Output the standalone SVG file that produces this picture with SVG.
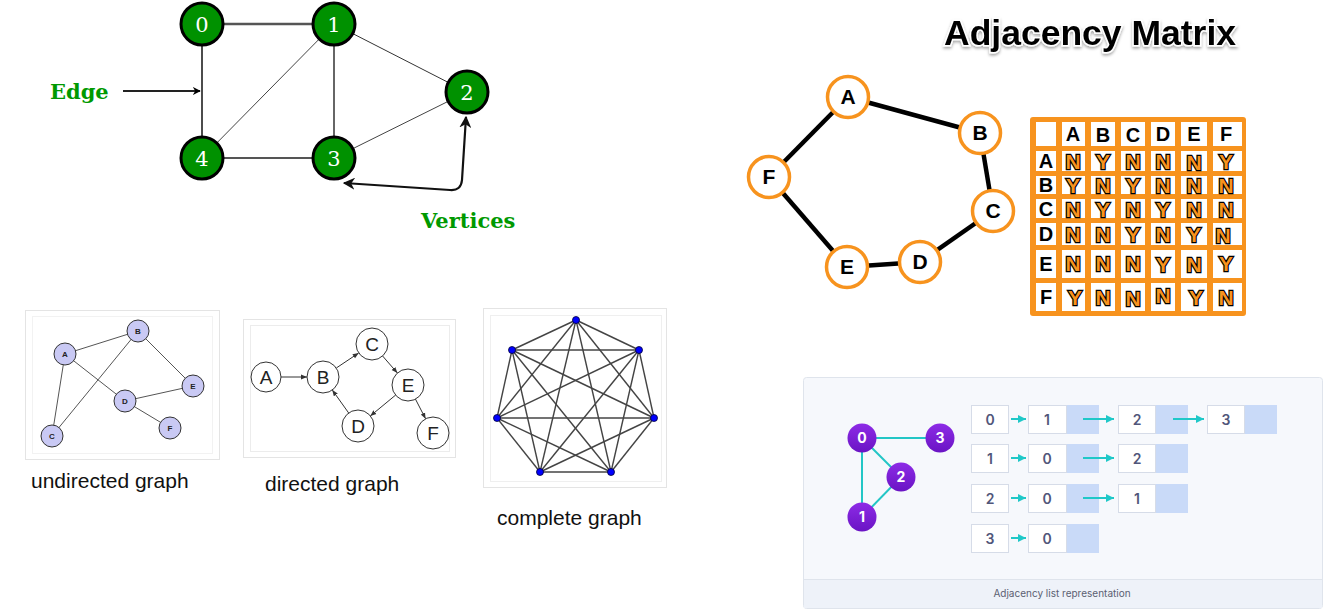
<svg xmlns="http://www.w3.org/2000/svg" width="1324" height="611" viewBox="0 0 1324 611">
<defs>
<style>
.gnode circle{fill:#009100;stroke:#000;stroke-width:3}
.gnode text{fill:#fff;font-family:"DejaVu Serif",serif;font-size:21px;text-anchor:middle}
.glabel{fill:#009900;font-family:"DejaVu Serif",serif;font-weight:bold;font-size:21px}
.mnode circle{fill:#fff;stroke:#f7931e;stroke-width:3.5}
.mnode text{fill:#000;font-family:"Liberation Sans",Arial,sans-serif;font-weight:bold;font-size:21px;text-anchor:middle;stroke:#fff;stroke-width:3;paint-order:stroke}
.mhdr{fill:#000;font-family:"Liberation Sans",Arial,sans-serif;font-weight:bold;font-size:20px;text-anchor:middle;stroke:#fff;stroke-width:2;paint-order:stroke}
.mval{fill:#f7931e;font-family:"Liberation Sans",Arial,sans-serif;font-weight:bold;font-size:21px;text-anchor:middle;stroke:#000;stroke-width:2.4;paint-order:stroke}
.mcell{fill:#fff}
.unode circle{fill:#c9c9f4;stroke:#333;stroke-width:1}
.unode text{fill:#222;font-family:"Liberation Sans",Arial,sans-serif;font-weight:bold;font-size:8px;text-anchor:middle}
.dnode circle{fill:#fff;stroke:#333;stroke-width:1}
.dnode text{fill:#222;font-family:"Liberation Sans",Arial,sans-serif;font-size:19px;text-anchor:middle}
.cnode circle{fill:#0000ff;stroke:#000033;stroke-width:0.8}
.cap{fill:#111;font-family:"Liberation Sans",Arial,sans-serif;font-size:21px}
.lnode circle{fill:url(#purp)}
.lnode text{fill:#fff;font-family:Inter,"Liberation Sans",sans-serif;font-weight:bold;font-size:14px;text-anchor:middle}
.lbox{fill:#fff;stroke:#d6dce8;stroke-width:1}
.lptr{fill:#c9daf8}
.ltxt{fill:#51567a;font-family:Inter,"Liberation Sans",sans-serif;font-weight:600;font-size:14px;text-anchor:middle}
.frame{fill:#fff;stroke:#e4e4e4;stroke-width:1}
</style>
<linearGradient id="purp" x1="0" y1="0" x2="0" y2="1">
<stop offset="0" stop-color="#8d2be6"/>
<stop offset="1" stop-color="#6a14c4"/>
</linearGradient>
<marker id="ah" viewBox="0 0 10 10" refX="9" refY="5" markerWidth="8" markerHeight="8" orient="auto-start-reverse" markerUnits="userSpaceOnUse">
<path d="M0,0 L10,5 L0,10 L3,5 z" fill="#000"/>
</marker>
<marker id="ahs" viewBox="0 0 10 10" refX="9" refY="5" markerWidth="12" markerHeight="12" orient="auto-start-reverse" markerUnits="userSpaceOnUse">
<path d="M0,0 L10,5 L0,10 L3,5 z" fill="#111"/>
</marker>
<marker id="dh" viewBox="0 0 10 10" refX="10" refY="5" markerWidth="6" markerHeight="6" orient="auto" markerUnits="userSpaceOnUse">
<path d="M0,1 L10,5 L0,9 z" fill="#333"/>
</marker>
<marker id="th" viewBox="0 0 10 10" refX="10" refY="5" markerWidth="8" markerHeight="8" orient="auto" markerUnits="userSpaceOnUse">
<path d="M0,0 L10,5 L0,10 z" fill="#1fc8c8"/>
</marker>
<filter id="sh" x="-5%" y="-20%" width="110%" height="150%">
<feDropShadow dx="0" dy="2" stdDeviation="1.5" flood-color="#000" flood-opacity="0.35"/>
</filter>
</defs>
<rect width="1324" height="611" fill="#fff"/>

<!-- ===== Top-left graph ===== -->
<g id="connectors-top">
<line x1="202" y1="24" x2="334" y2="24" stroke="#555" stroke-width="2.5"/>
<line x1="202" y1="24" x2="202" y2="158" stroke="#111" stroke-width="1.5"/>
<line x1="202" y1="158" x2="334" y2="24" stroke="#444" stroke-width="1"/>
<line x1="334" y1="24" x2="334" y2="158" stroke="#333" stroke-width="1.5"/>
<line x1="334" y1="24" x2="467" y2="92" stroke="#333" stroke-width="1"/>
<line x1="467" y1="92" x2="334" y2="158" stroke="#444" stroke-width="1"/>
<line x1="202" y1="158" x2="334" y2="158" stroke="#555" stroke-width="2"/>
<line x1="123" y1="91" x2="200" y2="91" stroke="#222" stroke-width="2" marker-end="url(#ah)"/>
<path d="M344,183 L450,190 Q461,191 462,180 L466,117" fill="none" stroke="#111" stroke-width="2.2" marker-start="url(#ahs)" marker-end="url(#ahs)"/>
</g>
<g id="n0" class="gnode"><circle cx="202" cy="24" r="21"/><text x="202" y="32">0</text></g>
<g id="n1" class="gnode"><circle cx="334" cy="24" r="21"/><text x="334" y="32">1</text></g>
<g id="n2" class="gnode"><circle cx="467" cy="92" r="21"/><text x="467" y="100">2</text></g>
<g id="n3" class="gnode"><circle cx="334" cy="158" r="21"/><text x="334" y="166">3</text></g>
<g id="n4" class="gnode"><circle cx="202" cy="158" r="21"/><text x="202" y="166">4</text></g>
<g id="lbl-edge"><text class="glabel" x="50" y="99">Edge</text></g>
<g id="lbl-vertices"><text class="glabel" x="421" y="228">Vertices</text></g>

<!-- ===== Adjacency matrix ===== -->
<g id="title"><text x="944" y="45" font-family="'Liberation Sans',Arial,sans-serif" font-weight="bold" font-size="35.5" fill="#000" stroke="#fff" stroke-width="3" paint-order="stroke" filter="url(#sh)">Adjacency Matrix</text></g>
<g id="connectors-matrix" stroke="#000" stroke-width="4.5">
<line x1="848" y1="97" x2="980" y2="133"/>
<line x1="980" y1="133" x2="993" y2="211"/>
<line x1="993" y1="211" x2="920" y2="262"/>
<line x1="920" y1="262" x2="847" y2="267"/>
<line x1="847" y1="267" x2="769" y2="177"/>
<line x1="769" y1="177" x2="848" y2="97"/>
</g>
<g id="mA" class="mnode"><circle cx="848" cy="97" r="20.5"/><text x="848" y="104">A</text></g>
<g id="mB" class="mnode"><circle cx="980" cy="133" r="20.5"/><text x="980" y="140">B</text></g>
<g id="mC" class="mnode"><circle cx="993" cy="211" r="20.5"/><text x="993" y="218">C</text></g>
<g id="mD" class="mnode"><circle cx="920" cy="262" r="20.5"/><text x="920" y="269">D</text></g>
<g id="mE" class="mnode"><circle cx="847" cy="267" r="20.5"/><text x="847" y="274">E</text></g>
<g id="mF" class="mnode"><circle cx="769" cy="177" r="20.5"/><text x="769" y="184">F</text></g>

<g id="matrix">
<rect x="1030" y="117" width="216" height="199" rx="3" fill="#f7931e"/>
<g class="mcell">
<rect x="1036" y="122" width="20" height="24"/><rect x="1062" y="122" width="23" height="24"/><rect x="1091" y="122" width="24" height="24"/><rect x="1121" y="122" width="24" height="24"/><rect x="1151" y="122" width="24" height="24"/><rect x="1181" y="122" width="26" height="24"/><rect x="1213" y="122" width="29" height="24"/>
<rect x="1036" y="151" width="20" height="20"/><rect x="1062" y="151" width="23" height="20"/><rect x="1091" y="151" width="24" height="20"/><rect x="1121" y="151" width="24" height="20"/><rect x="1151" y="151" width="24" height="20"/><rect x="1181" y="151" width="26" height="20"/><rect x="1213" y="151" width="29" height="20"/>
<rect x="1036" y="176" width="20" height="18"/><rect x="1062" y="176" width="23" height="18"/><rect x="1091" y="176" width="24" height="18"/><rect x="1121" y="176" width="24" height="18"/><rect x="1151" y="176" width="24" height="18"/><rect x="1181" y="176" width="26" height="18"/><rect x="1213" y="176" width="29" height="18"/>
<rect x="1036" y="199" width="20" height="19"/><rect x="1062" y="199" width="23" height="19"/><rect x="1091" y="199" width="24" height="19"/><rect x="1121" y="199" width="24" height="19"/><rect x="1151" y="199" width="24" height="19"/><rect x="1181" y="199" width="26" height="19"/><rect x="1213" y="199" width="29" height="19"/>
<rect x="1036" y="223" width="20" height="22"/><rect x="1062" y="223" width="23" height="22"/><rect x="1091" y="223" width="24" height="22"/><rect x="1121" y="223" width="24" height="22"/><rect x="1151" y="223" width="24" height="22"/><rect x="1181" y="223" width="26" height="22"/><rect x="1213" y="223" width="29" height="22"/>
<rect x="1036" y="250" width="20" height="28"/><rect x="1062" y="250" width="23" height="28"/><rect x="1091" y="250" width="24" height="28"/><rect x="1121" y="250" width="24" height="28"/><rect x="1151" y="250" width="24" height="28"/><rect x="1181" y="250" width="26" height="28"/><rect x="1213" y="250" width="29" height="28"/>
<rect x="1036" y="283" width="20" height="28"/><rect x="1062" y="283" width="23" height="28"/><rect x="1091" y="283" width="24" height="28"/><rect x="1121" y="283" width="24" height="28"/><rect x="1151" y="283" width="24" height="28"/><rect x="1181" y="283" width="26" height="28"/><rect x="1213" y="283" width="29" height="28"/>
</g>
<g class="mhdr">
<text x="1073" y="141">A</text><text x="1103" y="142">B</text><text x="1133" y="142">C</text><text x="1163" y="141">D</text><text x="1194" y="141">E</text><text x="1226" y="141">F</text>
<text x="1046" y="168">A</text><text x="1046" y="192">B</text><text x="1046" y="216">C</text><text x="1046" y="241">D</text><text x="1046" y="271">E</text><text x="1046" y="304">F</text>
</g>
<g class="mval">
<text x="1073" y="169">N</text><text x="1103" y="169">Y</text><text x="1133" y="169">N</text><text x="1163" y="169">N</text><text x="1194" y="170">N</text><text x="1226" y="169">Y</text>
<text x="1073" y="193">Y</text><text x="1103" y="193">N</text><text x="1133" y="193">Y</text><text x="1163" y="193">N</text><text x="1194" y="193">N</text><text x="1226" y="193">N</text>
<text x="1073" y="217">N</text><text x="1103" y="217">Y</text><text x="1133" y="217">N</text><text x="1163" y="217">Y</text><text x="1194" y="217">N</text><text x="1226" y="217">N</text>
<text x="1073" y="242">N</text><text x="1103" y="242">N</text><text x="1133" y="242">Y</text><text x="1163" y="242">N</text><text x="1194" y="242">Y</text><text x="1223" y="243">N</text>
<text x="1073" y="271">N</text><text x="1103" y="271">N</text><text x="1133" y="271">N</text><text x="1163" y="272">Y</text><text x="1194" y="272">N</text><text x="1226" y="271">Y</text>
<text x="1075" y="305">Y</text><text x="1103" y="305">N</text><text x="1133" y="306">N</text><text x="1163" y="303">N</text><text x="1196" y="305">Y</text><text x="1226" y="305">N</text>
</g>
</g>

<!-- ===== Undirected graph ===== -->
<g id="undirected">
<rect class="frame" x="25.5" y="310.5" width="194" height="149"/>
<rect x="32.5" y="316.5" width="180" height="137" fill="none" stroke="#f2f2f2" stroke-width="1"/>
<g id="connectors-undirected" stroke="#555" stroke-width="1">
<line x1="65" y1="354" x2="138" y2="331"/>
<line x1="65" y1="354" x2="125" y2="401"/>
<line x1="65" y1="354" x2="52" y2="436"/>
<line x1="138" y1="331" x2="52" y2="436"/>
<line x1="138" y1="331" x2="193" y2="386"/>
<line x1="125" y1="401" x2="193" y2="386"/>
<line x1="125" y1="401" x2="170" y2="428"/>
</g>
<g id="uA" class="unode"><circle cx="65" cy="354" r="11"/><text x="65" y="357">A</text></g>
<g id="uB" class="unode"><circle cx="138" cy="331" r="11"/><text x="138" y="334">B</text></g>
<g id="uC" class="unode"><circle cx="52" cy="436" r="11"/><text x="52" y="439">C</text></g>
<g id="uD" class="unode"><circle cx="125" cy="401" r="11"/><text x="125" y="404">D</text></g>
<g id="uE" class="unode"><circle cx="193" cy="386" r="11"/><text x="193" y="389">E</text></g>
<g id="uF" class="unode"><circle cx="170" cy="428" r="11"/><text x="170" y="431">F</text></g>
<text class="cap" x="31" y="488">undirected graph</text>
</g>

<!-- ===== Directed graph ===== -->
<g id="directed">
<rect class="frame" x="243.5" y="319.5" width="212" height="138"/>
<rect x="250.5" y="325.5" width="199" height="126" fill="none" stroke="#ececec" stroke-width="1"/>
<g id="connectors-directed" stroke="#333" stroke-width="1" marker-end="url(#dh)">
<line x1="281" y1="377" x2="307" y2="377"/>
<line x1="336.3" y1="368" x2="358.7" y2="353"/>
<line x1="382.6" y1="356" x2="397.4" y2="373"/>
<line x1="395.7" y1="395" x2="370.3" y2="416"/>
<line x1="348.7" y1="413" x2="332.3" y2="390"/>
<line x1="415.4" y1="399" x2="425.6" y2="418.8"/>
</g>
<g id="dA" class="dnode"><circle cx="266" cy="377" r="15"/><text x="266" y="384">A</text></g>
<g id="dB" class="dnode"><circle cx="323" cy="377" r="16"/><text x="323" y="384">B</text></g>
<g id="dC" class="dnode"><circle cx="372" cy="344" r="16"/><text x="372" y="351">C</text></g>
<g id="dE" class="dnode"><circle cx="408" cy="385" r="16"/><text x="408" y="392">E</text></g>
<g id="dD" class="dnode"><circle cx="358" cy="426" r="16"/><text x="358" y="433">D</text></g>
<g id="dF" class="dnode"><circle cx="433" cy="433" r="16"/><text x="433" y="440">F</text></g>
<text class="cap" x="265" y="491">directed graph</text>
</g>

<!-- ===== Complete graph ===== -->
<g id="complete">
<rect class="frame" x="483.5" y="308.5" width="183" height="179"/>
<rect x="490.5" y="315.5" width="171" height="166" fill="none" stroke="#efefef" stroke-width="1"/>
<g id="connectors-complete" stroke="#444" stroke-width="1.4">
<line x1="576" y1="320" x2="512" y2="350"/><line x1="576" y1="320" x2="639" y2="350"/><line x1="576" y1="320" x2="497" y2="418"/><line x1="576" y1="320" x2="654" y2="418"/><line x1="576" y1="320" x2="540" y2="472"/><line x1="576" y1="320" x2="611" y2="472"/>
<line x1="512" y1="350" x2="639" y2="350"/><line x1="512" y1="350" x2="497" y2="418"/><line x1="512" y1="350" x2="654" y2="418"/><line x1="512" y1="350" x2="540" y2="472"/><line x1="512" y1="350" x2="611" y2="472"/>
<line x1="639" y1="350" x2="497" y2="418"/><line x1="639" y1="350" x2="654" y2="418"/><line x1="639" y1="350" x2="540" y2="472"/><line x1="639" y1="350" x2="611" y2="472"/>
<line x1="497" y1="418" x2="654" y2="418"/><line x1="497" y1="418" x2="540" y2="472"/><line x1="497" y1="418" x2="611" y2="472"/>
<line x1="654" y1="418" x2="540" y2="472"/><line x1="654" y1="418" x2="611" y2="472"/>
<line x1="540" y1="472" x2="611" y2="472"/>
</g>
<g id="c0" class="cnode"><circle cx="576" cy="320" r="3.5"/></g>
<g id="c1" class="cnode"><circle cx="512" cy="350" r="3.5"/></g>
<g id="c2" class="cnode"><circle cx="639" cy="350" r="3.5"/></g>
<g id="c3" class="cnode"><circle cx="497" cy="418" r="3.5"/></g>
<g id="c4" class="cnode"><circle cx="654" cy="418" r="3.5"/></g>
<g id="c5" class="cnode"><circle cx="540" cy="472" r="3.5"/></g>
<g id="c6" class="cnode"><circle cx="611" cy="472" r="3.5"/></g>
<text class="cap" x="497" y="525">complete graph</text>
</g>

<!-- ===== Adjacency list ===== -->
<g id="adjlist">
<rect x="803.5" y="377.5" width="519" height="231" rx="3" fill="#f6f8fc" stroke="#dfe4ec"/>
<path d="M804,579.5 H1322" stroke="#dfe4ec" stroke-width="1"/>
<rect x="804" y="580" width="518" height="28" fill="#eef2f9"/>
<text x="1062" y="597" font-family="Inter,'Liberation Sans',sans-serif" font-size="10" fill="#5b6072" text-anchor="middle">Adjacency list representation</text>
<g id="connectors-list-graph" stroke="#22c6c6" stroke-width="2">
<line x1="862" y1="438" x2="940" y2="438"/>
<line x1="862" y1="438" x2="901" y2="477"/>
<line x1="862" y1="438" x2="862" y2="517"/>
<line x1="901" y1="477" x2="862" y2="517"/>
</g>
<g id="l0" class="lnode"><circle cx="862" cy="438" r="14.5"/><text x="862" y="443">0</text></g>
<g id="l3" class="lnode"><circle cx="940" cy="438" r="14.5"/><text x="940" y="443">3</text></g>
<g id="l2" class="lnode"><circle cx="901" cy="477" r="14.5"/><text x="901" y="482">2</text></g>
<g id="l1" class="lnode"><circle cx="862" cy="517" r="14.5"/><text x="862" y="522">1</text></g>

<g id="row0">
<rect class="lbox" x="971.5" y="405.5" width="37" height="28"/><text class="ltxt" x="990" y="425">0</text>
<rect class="lbox" x="1028.5" y="405.5" width="38" height="28"/><rect class="lptr" x="1067" y="405" width="32" height="29"/><text class="ltxt" x="1047" y="425">1</text>
<rect class="lbox" x="1118.5" y="405.5" width="37" height="28"/><rect class="lptr" x="1156" y="405" width="32" height="29"/><text class="ltxt" x="1137" y="425">2</text>
<rect class="lbox" x="1207.5" y="405.5" width="37" height="28"/><rect class="lptr" x="1245" y="405" width="32" height="29"/><text class="ltxt" x="1226" y="425">3</text>
</g>
<g id="row1">
<rect class="lbox" x="971.5" y="444.5" width="37" height="28"/><text class="ltxt" x="990" y="464">1</text>
<rect class="lbox" x="1028.5" y="444.5" width="38" height="28"/><rect class="lptr" x="1067" y="444" width="32" height="29"/><text class="ltxt" x="1047" y="464">0</text>
<rect class="lbox" x="1118.5" y="444.5" width="37" height="28"/><rect class="lptr" x="1156" y="444" width="32" height="29"/><text class="ltxt" x="1137" y="464">2</text>
</g>
<g id="row2">
<rect class="lbox" x="971.5" y="484.5" width="37" height="28"/><text class="ltxt" x="990" y="504">2</text>
<rect class="lbox" x="1028.5" y="484.5" width="38" height="28"/><rect class="lptr" x="1067" y="484" width="32" height="29"/><text class="ltxt" x="1047" y="504">0</text>
<rect class="lbox" x="1118.5" y="484.5" width="37" height="28"/><rect class="lptr" x="1156" y="484" width="32" height="29"/><text class="ltxt" x="1137" y="504">1</text>
</g>
<g id="row3">
<rect class="lbox" x="971.5" y="524.5" width="37" height="28"/><text class="ltxt" x="990" y="544">3</text>
<rect class="lbox" x="1028.5" y="524.5" width="38" height="28"/><rect class="lptr" x="1067" y="524" width="32" height="29"/><text class="ltxt" x="1047" y="544">0</text>
</g>
<g id="connectors-list" stroke="#1fc8c8" stroke-width="2" marker-end="url(#th)">
<line x1="1011" y1="419" x2="1026" y2="419"/>
<line x1="1083" y1="419" x2="1114" y2="419"/>
<line x1="1173" y1="419" x2="1204" y2="419"/>
<line x1="1011" y1="458" x2="1026" y2="458"/>
<line x1="1083" y1="458" x2="1114" y2="458"/>
<line x1="1011" y1="498" x2="1026" y2="498"/>
<line x1="1083" y1="498" x2="1114" y2="498"/>
<line x1="1011" y1="538" x2="1026" y2="538"/>
</g>
</g>
</svg>
